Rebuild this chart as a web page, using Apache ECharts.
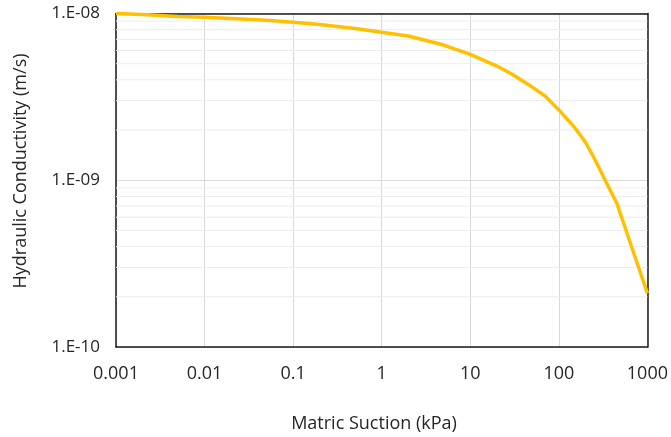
<!DOCTYPE html>
<html><head><meta charset="utf-8">
<script src="https://cdn.jsdelivr.net/npm/echarts@6/dist/echarts.min.js"></script>
<style>html,body{margin:0;padding:0;background:#fff}#c{width:671px;height:437px}</style>
</head><body><div id="c"></div>
<script>
const suction = [0.001, 0.002, 0.005, 0.01, 0.02, 0.05, 0.1, 0.2, 0.5, 1, 2, 5, 10, 20, 30, 50, 70, 100, 150, 200, 250, 300, 350, 450, 1000];
const conductivity = [1.0e-8, 9.86e-9, 9.59e-9, 9.49e-9, 9.33e-9, 9.10e-9, 8.86e-9, 8.59e-9, 8.13e-9, 7.71e-9, 7.33e-9, 6.47e-9, 5.69e-9, 4.84e-9, 4.31e-9, 3.62e-9, 3.20e-9, 2.64e-9, 2.08e-9, 1.69e-9, 1.36e-9, 1.12e-9, 9.5e-10, 7.31e-10, 2.10e-10];
const xTickLabels = ['0.001', '0.01', '0.1', '1', '10', '100', '1000'];
const yTickLabels = ['1.E-10', '1.E-09', '1.E-08'];
const yMinorGrid = [2e-10, 3e-10, 4e-10, 5e-10, 6e-10, 7e-10, 8e-10, 9e-10, 2e-9, 3e-9, 4e-9, 5e-9, 6e-9, 7e-9, 8e-9, 9e-9];
const xTitle = 'Matric Suction (kPa)';
const yTitle = 'Hydraulic Conductivity (m/s)';
const X_MIN = 0.001, X_MAX = 1000, Y_MIN = 1e-10, Y_MAX = 1e-8;

const FONT = 'Open Sans';
const TEXT = '#262626';
const frame = {show: true, lineStyle: {color: '#1a1a1a', width: 1.5}};

const minorSeries = yMinorGrid.map(v => ({
  type: 'line', z: 1, silent: true, showSymbol: false, animation: false,
  data: [[X_MIN, v], [X_MAX, v]],
  lineStyle: {color: '#ececec', width: 1}, itemStyle: {opacity: 0}
}));

const chart = echarts.init(document.getElementById('c'), null, {renderer: 'canvas'});
chart.setOption({
  animation: false,
  backgroundColor: '#fff',
  grid: {left: 116, right: 20, top: 13.5, bottom: 90},
  xAxis: [{
    type: 'log', logBase: 10, min: X_MIN, max: X_MAX,
    axisLine: frame, axisTick: {show: false},
    splitLine: {show: true, lineStyle: {color: '#d9d9d9', width: 1}},
    axisLabel: {
      margin: 18, color: TEXT, fontFamily: FONT, fontSize: 18,
      formatter: v => xTickLabels[Math.round(Math.log10(v)) + 3]
    }
  }, {
    type: 'log', logBase: 10, min: X_MIN, max: X_MAX, position: 'top',
    axisLine: frame, axisTick: {show: false}, axisLabel: {show: false}, splitLine: {show: false}
  }],
  yAxis: [{
    type: 'log', logBase: 10, min: Y_MIN, max: Y_MAX,
    axisLine: frame, axisTick: {show: false},
    splitLine: {show: true, lineStyle: {color: '#d9d9d9', width: 1}},
    axisLabel: {
      margin: 16, color: TEXT, fontFamily: FONT, fontSize: 17,
      formatter: v => yTickLabels[Math.round(Math.log10(v)) + 10]
    }
  }, {
    type: 'log', logBase: 10, min: Y_MIN, max: Y_MAX, position: 'right',
    axisLine: frame, axisTick: {show: false}, axisLabel: {show: false}, splitLine: {show: false}
  }],
  graphic: [
    {type: 'text', x: 374, y: 424, style: {text: xTitle, fontFamily: FONT, fontSize: 18, fill: TEXT, align: 'center', verticalAlign: 'middle'}},
    {type: 'text', x: 21, y: 171, rotation: Math.PI / 2, style: {text: yTitle, fontFamily: FONT, fontSize: 18, fill: TEXT, align: 'center', verticalAlign: 'middle'}}
  ],
  series: minorSeries.concat([
    {
      type: 'line', z: 3,
      data: suction.map((s, i) => [s, conductivity[i]]),
      showSymbol: false, smooth: false,
      lineStyle: {color: '#FFC000', width: 3.5},
      itemStyle: {color: '#FFC000'}
    }
  ])
});
</script>
</body></html>
